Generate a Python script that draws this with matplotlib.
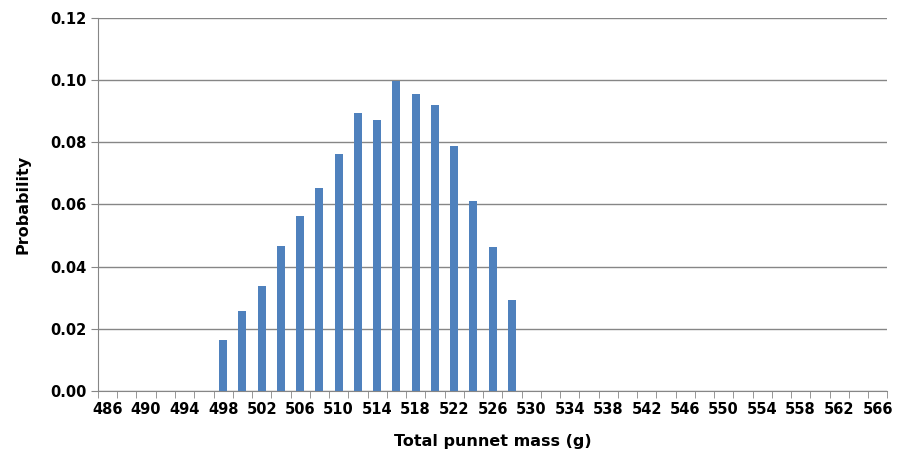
import numpy as np
import matplotlib.pyplot as plt

masses = list(range(486, 568, 2))
probs = {498: 0.0165, 500: 0.0257, 502: 0.0338, 504: 0.0467, 506: 0.0563,
         508: 0.0653, 510: 0.0763, 512: 0.0893, 514: 0.0872, 516: 0.0995,
         518: 0.0956, 520: 0.0920, 522: 0.0788, 524: 0.0610, 526: 0.0462,
         528: 0.0292}
values = [probs.get(m, 0.0) for m in masses]

plt.rcParams["font.weight"] = "bold"
fig, ax = plt.subplots(figsize=(8.99, 4.66), dpi=100)
fig.subplots_adjust(left=0.109, right=0.987, top=0.962, bottom=0.161)

x = np.arange(len(masses))
ax.bar(x, values, width=0.42, color="#4f81bd", zorder=3)

ax.set_xlim(-0.5, len(masses) - 0.5)
ax.set_ylim(0, 0.12)
ax.set_yticks(np.arange(0, 0.121, 0.02))
ax.set_yticklabels([f"{v:.2f}" for v in np.arange(0, 0.121, 0.02)])
ax.set_xticks(x[::2])
ax.set_xticklabels([str(m) for m in masses[::2]])
ax.set_xticks(np.arange(-0.5, len(masses), 1), minor=True)
ax.tick_params(axis="x", which="major", length=0, labelsize=10.5, pad=8)
ax.tick_params(axis="x", which="minor", length=5, color="#868686")
ax.tick_params(axis="y", length=5, labelsize=10.5, color="#868686")

ax.grid(axis="y", color="#868686", linewidth=1, zorder=0)
for s in ["top", "right"]:
    ax.spines[s].set_visible(False)
for s in ["left", "bottom"]:
    ax.spines[s].set_color("#868686")

ax.set_xlabel("Total punnet mass (g)", fontsize=11.5, fontweight="bold", labelpad=12)
ax.set_ylabel("Probability", fontsize=11.5, fontweight="bold", labelpad=14)

fig.savefig("out.png", dpi=100)
